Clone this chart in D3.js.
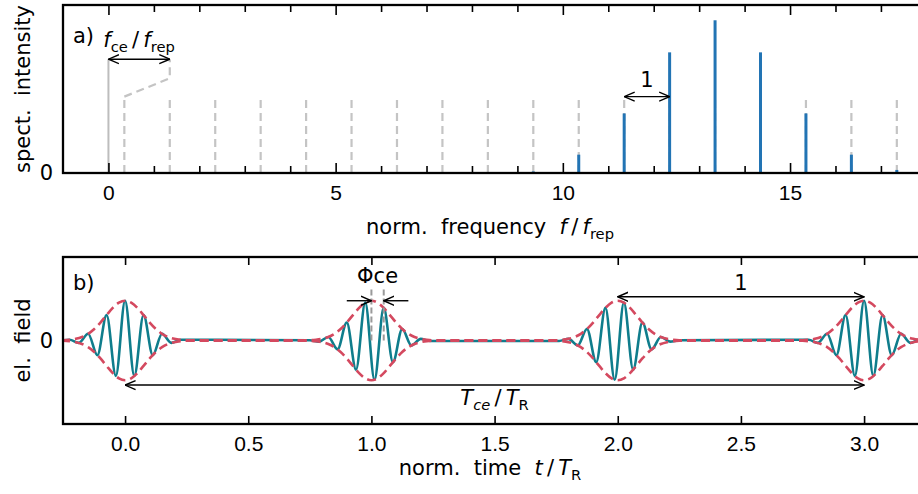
<!DOCTYPE html>
<html>
<head>
<meta charset="utf-8">
<script src="https://cdn.jsdelivr.net/npm/d3@7"></script>
<style>
  body { margin: 0; background: #fff; }
  svg { display: block; font-family: "DejaVu Sans", sans-serif; }
  svg text { white-space: pre; }
</style>
</head>
<body>
<svg id="chart" width="918" height="494"></svg>
<script>
// ---- panel a) : frequency comb ----
const combFreq = [0.35, 1.35, 2.35, 3.35, 4.35, 5.35, 6.35, 7.35, 8.35,
  9.35, 10.35, 11.35, 12.35, 13.35, 14.35, 15.35, 16.35, 17.35];
const specHeight = [0, 0, 0, 0, 0, 0, 0, 0, 0,
  0.01, 0.12, 0.39, 0.79, 1.0, 0.79, 0.39, 0.12, 0.02];
const combLevel = 0.5;
const offsetPath = [[0.35, 0.5], [1.35, 0.62], [1.35, 0.745]];
const fceLevel = 0.745;
const freqTicks = [0, 1, 2, 3, 4, 5, 6, 7, 8, 9, 10, 11, 12, 13, 14, 15, 16, 17];
const freqLabels = [0, 5, 10, 15];

// ---- panel b) : pulse train, extrema of the field [t, E] ----
const pulse0 = [[-0.225, 0.02], [-0.1875, -0.06], [-0.15, 0.17], [-0.1125, -0.37], [-0.075, 0.64],
  [-0.0375, -0.89], [0, 1.0], [0.0375, -0.89], [0.075, 0.64], [0.1125, -0.37], [0.15, 0.17],
  [0.1875, -0.06], [0.225, 0.02]];
const pulse1 = [[0.75, 0.007], [0.7875, -0.028], [0.825, 0.088], [0.8625, -0.223], [0.9, 0.452],
  [0.9375, -0.733], [0.975, 0.952], [1.0125, -0.988], [1.05, 0.82], [1.0875, -0.545], [1.125, 0.29],
  [1.1625, -0.123], [1.2, 0.042], [1.2375, -0.011]];
const pulse2 = [[1.7625, -0.011], [1.8, 0.042], [1.8375, -0.123], [1.875, 0.29], [1.9125, -0.545],
  [1.95, 0.82], [1.9875, -0.988], [2.025, 0.952], [2.0625, -0.733], [2.1, 0.452], [2.1375, -0.223],
  [2.175, 0.088], [2.2125, -0.028], [2.25, 0.007]];
const pulse3 = [[2.775, 0.02], [2.8125, -0.06], [2.85, 0.17], [2.8875, -0.37], [2.925, 0.64],
  [2.9625, -0.89], [3.0, 1.0], [3.0375, -0.89], [3.075, 0.64], [3.1125, -0.37], [3.15, 0.17],
  [3.1875, -0.06], [3.225, 0.02]];
const pulseCenters = [0, 1, 2, 3];
const envOffset = [-0.25, -0.225, -0.2, -0.175, -0.15, -0.125, -0.1, -0.075, -0.05, -0.025, 0,
  0.025, 0.05, 0.075, 0.1, 0.125, 0.15, 0.175, 0.2, 0.225, 0.25];
const envValue = [0.007, 0.018, 0.042, 0.088, 0.168, 0.29, 0.452, 0.64, 0.82, 0.952, 1,
  0.952, 0.82, 0.64, 0.452, 0.29, 0.168, 0.088, 0.042, 0.018, 0.007];
const timeTicks = [0, 0.5, 1.0, 1.5, 2.0, 2.5, 3.0];
const timeStart = -0.26, timeEnd = 3.3;

const svg = d3.select('#chart');
const FS = 21;
const SL = '\u2009/\u2009';

// 레이아웃
const A = { left: 63, right: 920, top: 5, bottom: 173 };
const B = { left: 63, right: 920, top: 257, bottom: 424 };

const xA = d3.scaleLinear().domain([-1, 17.86]).range([A.left, A.right]);
const yA = d3.scaleLinear().domain([0, 1.1]).range([A.bottom, A.top]);
const xB = d3.scaleLinear().domain([-0.252, 3.227]).range([B.left, B.right]);
const yB = d3.scaleLinear().domain([-2.1, 2.1]).range([B.bottom, B.top]);

const defs = svg.append('defs');
defs.append('marker')
  .attr('id', 'head')
  .attr('viewBox', '0 -6 11 12')
  .attr('refX', 10.5).attr('refY', 0)
  .attr('markerWidth', 11).attr('markerHeight', 12)
  .attr('markerUnits', 'userSpaceOnUse')
  .attr('orient', 'auto-start-reverse')
  .append('path')
  .attr('d', 'M0,-4.5L10.5,0L0,4.5')
  .attr('fill', 'none')
  .attr('stroke', '#000')
  .attr('stroke-width', 1.4);

[['clipA', A], ['clipB', B]].forEach(([id, p]) => {
  defs.append('clipPath').attr('id', id)
    .append('rect')
    .attr('x', p.left).attr('y', p.top)
    .attr('width', p.right - p.left).attr('height', p.bottom - p.top);
});

function arrow(g, x1, y1, x2, y2, both) {
  const l = g.append('line')
    .attr('x1', x1).attr('y1', y1).attr('x2', x2).attr('y2', y2)
    .attr('stroke', '#000').attr('stroke-width', 1.4)
    .attr('marker-end', 'url(#head)');
  if (both) l.attr('marker-start', 'url(#head)');
}

// 아래첨자 텍스트
function richText(g, x, y, parts, anchor) {
  const t = g.append('text')
    .attr('x', x).attr('y', y)
    .attr('text-anchor', anchor || 'middle')
    .attr('font-size', FS);
  parts.forEach(p => {
    const s = t.append('tspan').text(p.t);
    if (p.i) s.attr('font-style', 'italic');
    if (p.sub) s.attr('font-size', FS * 0.7).attr('dy', 5);
    if (p.up) s.attr('dy', -5);
  });
  return t;
}

// ================= panel a =================
const gA = svg.append('g');
const plotA = gA.append('g').attr('clip-path', 'url(#clipA)');

// solid reference line at f = 0
plotA.append('line')
  .attr('x1', xA(0)).attr('x2', xA(0))
  .attr('y1', yA(0)).attr('y2', yA(fceLevel))
  .attr('stroke', '#bdbdbd').attr('stroke-width', 2);

// dashed comb
plotA.selectAll('.comb')
  .data(combFreq)
  .enter()
  .append('line')
  .attr('class', 'comb')
  .attr('x1', d => xA(d)).attr('x2', d => xA(d))
  .attr('y1', yA(0)).attr('y2', yA(combLevel))
  .attr('stroke', '#c4c4c4').attr('stroke-width', 2.2)
  .attr('stroke-dasharray', '8,5');

plotA.append('path')
  .attr('d', d3.line().x(d => xA(d[0])).y(d => yA(d[1]))(offsetPath))
  .attr('fill', 'none')
  .attr('stroke', '#c4c4c4').attr('stroke-width', 2.2)
  .attr('stroke-dasharray', '8,5');

// spectrum lines
plotA.selectAll('.spec')
  .data(combFreq.map((f, i) => [f, specHeight[i]]).filter(d => d[1] > 0))
  .enter()
  .append('line')
  .attr('class', 'spec')
  .attr('x1', d => xA(d[0])).attr('x2', d => xA(d[0]))
  .attr('y1', yA(0)).attr('y2', d => yA(d[1]))
  .attr('stroke', '#2274b4').attr('stroke-width', 3);

// axes
const axA = d3.axisBottom(xA).tickValues(freqTicks).tickSize(-7).tickPadding(12)
  .tickFormat(d => freqLabels.includes(d) ? d : '');
const gxA = gA.append('g').attr('transform', `translate(0,${A.bottom})`).call(axA);
const axAt = d3.axisTop(xA).tickValues(freqTicks).tickSize(-7).tickFormat('');
const gxAt = gA.append('g').attr('transform', `translate(0,${A.top})`).call(axAt);
[gxA, gxAt].forEach(g => {
  g.select('.domain').remove();
  g.selectAll('.tick line').attr('stroke-width', 1.6)
    .filter(d => freqLabels.includes(d))
    .attr('y2', function () { return +d3.select(this).attr('y2') > 0 ? 10 : -10; });
  g.selectAll('text').attr('font-size', FS).attr('font-family', null).attr('fill', '#000');
});

gA.append('text')
  .attr('x', A.left - 10).attr('y', yA(0)).attr('dy', '0.35em')
  .attr('text-anchor', 'end').attr('font-size', FS).text('0');

gA.append('rect')
  .attr('x', A.left).attr('y', A.top)
  .attr('width', A.right - A.left).attr('height', A.bottom - A.top)
  .attr('fill', 'none').attr('stroke', '#000').attr('stroke-width', 2.3);

// annotations
arrow(gA, xA(0), yA(fceLevel), xA(offsetPath[2][0]), yA(fceLevel), true);
richText(gA, (xA(0) + xA(1.35)) / 2, 47, [
  { t: 'f', i: true }, { t: 'ce', sub: true }, { t: SL, up: true }, { t: 'f', i: true }, { t: 'rep', sub: true }
]);
arrow(gA, xA(11.35), yA(combLevel), xA(12.35), yA(combLevel), true);
gA.append('text').attr('x', (xA(11.35) + xA(12.35)) / 2).attr('y', 87)
  .attr('text-anchor', 'middle').attr('font-size', FS).text('1');
gA.append('text').attr('x', 73).attr('y', 43).attr('font-size', FS).text('a)');

gA.append('text')
  .attr('transform', `translate(30,${(A.top + A.bottom) / 2}) rotate(-90)`)
  .attr('text-anchor', 'middle').attr('font-size', FS).text('spect.  intensity');

richText(gA, 490, 234, [
  { t: 'norm.  frequency  ' }, { t: 'f', i: true }, { t: SL }, { t: 'f', i: true }, { t: 'rep', sub: true }
]);

// ================= panel b =================
const gB = svg.append('g');
const plotB = gB.append('g').attr('clip-path', 'url(#clipB)');

const fieldPts = [[timeStart, 0]].concat(pulse0, pulse1, pulse2, pulse3, [[timeEnd, 0]]);
const lineB = d3.line().x(d => xB(d[0])).y(d => yB(d[1])).curve(d3.curveMonotoneX);

plotB.append('path')
  .attr('d', lineB(fieldPts))
  .attr('fill', 'none').attr('stroke', '#0f7d8c').attr('stroke-width', 2.6);

const envPts = [[timeStart, 0]];
pulseCenters.forEach(c => envOffset.forEach((o, i) => envPts.push([c + o, envValue[i]])));
envPts.push([timeEnd, 0]);

[1, -1].forEach(s => {
  plotB.append('path')
    .attr('d', lineB(envPts.map(d => [d[0], s * d[1]])))
    .attr('fill', 'none').attr('stroke', '#d4495f').attr('stroke-width', 2.6)
    .attr('stroke-dasharray', '9,5');
});

// phase markers
[1.0, 1.05].forEach(t => {
  gB.append('line')
    .attr('x1', xB(t)).attr('x2', xB(t))
    .attr('y1', yB(0)).attr('y2', yB(1.35))
    .attr('stroke', '#9a9a9a').attr('stroke-width', 2)
    .attr('stroke-dasharray', '6,3');
});
arrow(gB, xB(0.9), yB(1.0), xB(1.0), yB(1.0), false);
arrow(gB, xB(1.15), yB(1.0), xB(1.05), yB(1.0), false);
gB.append('text').attr('x', xB(1.025)).attr('y', 283)
  .attr('text-anchor', 'middle').attr('font-size', FS).text('Φce');

arrow(gB, xB(2.0), yB(1.1), xB(3.0), yB(1.1), true);
gB.append('text').attr('x', xB(2.5)).attr('y', 290)
  .attr('text-anchor', 'middle').attr('font-size', FS).text('1');

arrow(gB, xB(0), yB(-1.12), xB(3.0), yB(-1.12), true);
richText(gB, xB(1.5), 405, [
  { t: 'T', i: true }, { t: 'ce', sub: true, i: true }, { t: SL, up: true }, { t: 'T', i: true }, { t: 'R', sub: true }
]);

// axes
const axB = d3.axisBottom(xB).tickValues(timeTicks).tickSize(-8).tickPadding(12).tickFormat(d3.format('.1f'));
const gxB = gB.append('g').attr('transform', `translate(0,${B.bottom})`).call(axB);
const axBt = d3.axisTop(xB).tickValues(timeTicks).tickSize(-8).tickFormat('');
const gxBt = gB.append('g').attr('transform', `translate(0,${B.top})`).call(axBt);
[gxB, gxBt].forEach(g => {
  g.select('.domain').remove();
  g.selectAll('.tick line').attr('stroke-width', 1.6);
  g.selectAll('text').attr('font-size', FS).attr('font-family', null).attr('fill', '#000');
});

gB.append('text')
  .attr('x', B.left - 10).attr('y', yB(0)).attr('dy', '0.35em')
  .attr('text-anchor', 'end').attr('font-size', FS).text('0');

gB.append('rect')
  .attr('x', B.left).attr('y', B.top)
  .attr('width', B.right - B.left).attr('height', B.bottom - B.top)
  .attr('fill', 'none').attr('stroke', '#000').attr('stroke-width', 2.3);

gB.append('text').attr('x', 73).attr('y', 290).attr('font-size', FS).text('b)');

gB.append('text')
  .attr('transform', `translate(30,${(B.top + B.bottom) / 2}) rotate(-90)`)
  .attr('text-anchor', 'middle').attr('font-size', FS).text('el.  field');

richText(gB, 490, 475, [
  { t: 'norm.  time  ' }, { t: 't', i: true }, { t: SL }, { t: 'T', i: true }, { t: 'R', sub: true }
]);
</script>
</body>
</html>
